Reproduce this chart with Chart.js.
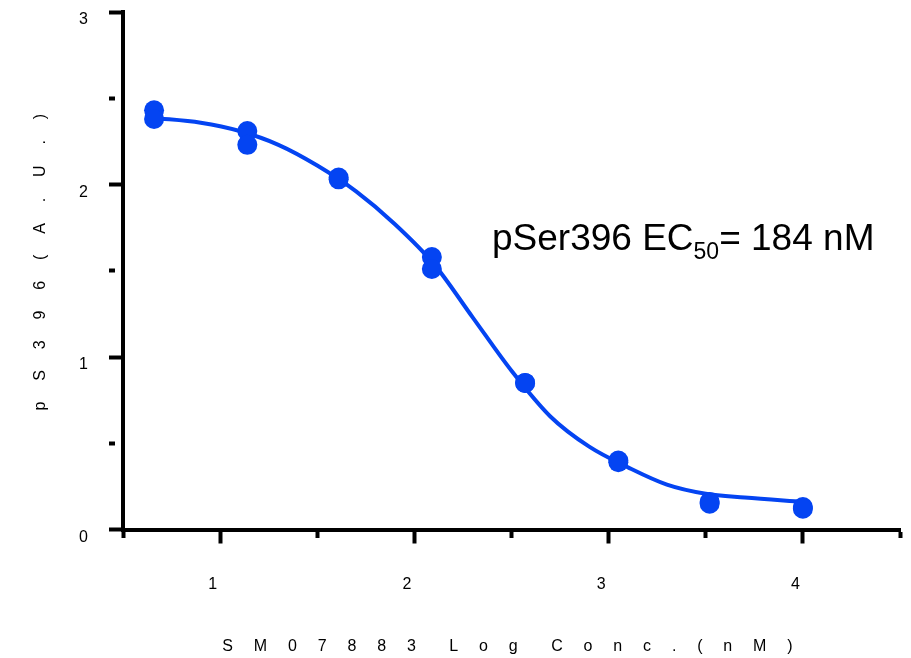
<!DOCTYPE html>
<html>
<head>
<meta charset="utf-8">
<script src="https://cdn.jsdelivr.net/npm/chart.js@4/dist/chart.umd.min.js"></script>
<style>
  html, body { margin: 0; padding: 0; background: #fff; }
  #wrap { width: 911px; height: 658px; }
</style>
</head>
<body>
<div id="wrap"><canvas id="doseChart" width="911" height="658"></canvas></div>
<script>
// log10 concentration (nM) of the dilution series
const logConc = [0.66, 1.14, 1.61, 2.09, 2.57, 3.05, 3.52, 4.0];
// pS396 signal, two replicates
const rep1 = [2.43, 2.31, 2.04, 1.58, 0.85, 0.40, 0.16, 0.13];
const rep2 = [2.38, 2.23, 2.03, 1.51, 0.85, 0.39, 0.15, 0.12];
// fitted curve
const fitX = [0.657, 0.9, 1.1, 1.3, 1.5, 1.7, 1.9, 2.1, 2.3, 2.5, 2.7, 2.9, 3.1, 3.3, 3.5, 3.7, 4.0];
const fitY = [2.386, 2.358, 2.31, 2.23, 2.11, 1.96, 1.77, 1.54, 1.23, 0.92, 0.655, 0.48, 0.36, 0.26, 0.207, 0.185, 0.16];
// axis ticks (whole numbers get a label, halves are minor)
const xTicks = [0.5, 1, 1.5, 2, 2.5, 3, 3.5, 4, 4.5];
const yTicks = [0, 0.5, 1, 1.5, 2, 2.5, 3];

const blue = '#0444f2';
const font = 'Liberation Sans, Arial, Helvetica, sans-serif';

const points = [];
logConc.forEach((x, i) => {
  points.push({ x: x, y: rep1[i] });
  points.push({ x: x, y: rep2[i] });
});
const curve = fitX.map((x, i) => ({ x: x, y: fitY[i] }));

const isMajor = v => Math.abs(v - Math.round(v)) < 1e-9;

// keep the plot box fixed, no extra room for edge labels
const noEdgePad = s => {
  s.paddingTop = 0; s.paddingBottom = 0;
  s.paddingLeft = 0; s.paddingRight = 0;
};

// titles are drawn with wide letter spacing
const spacedTitles = {
  id: 'spacedTitles',
  beforeDraw(chart) {
    ['x', 'y'].forEach(id => {
      const s = chart.scales[id];
      if (!s || s._spaced) return;
      const orig = s.drawTitle.bind(s);
      s.drawTitle = function () {
        const c = this.ctx;
        c.save();
        c.letterSpacing = '8.2px';
        orig();
        c.restore();
      };
      s._spaced = true;
    });
  }
};

const ecLabel = {
  id: 'ecLabel',
  afterDatasetsDraw(chart) {
    const c = chart.ctx;
    let x = 492, y = 250;
    c.save();
    c.fillStyle = '#000';
    c.textBaseline = 'alphabetic';
    c.textAlign = 'left';
    c.font = '37px ' + font;
    c.fillText('pSer396 EC', x, y);
    x += c.measureText('pSer396 EC').width;
    c.font = '23px ' + font;
    c.fillText('50', x, y + 9);
    x += c.measureText('50').width;
    c.font = '37px ' + font;
    c.fillText('= 184 nM', x, y);
    c.restore();
  }
};

const ctx = document.getElementById('doseChart').getContext('2d');
const doseChart = new Chart(ctx, {
  type: 'scatter',
  data: {
    datasets: [{
      label: 'pS396',
      data: points,
      order: 0,
      pointRadius: 10,
      pointBackgroundColor: blue,
      pointBorderWidth: 0,
      borderColor: blue,
      showLine: false
    }, {
      type: 'line',
      label: 'fit',
      data: curve,
      order: 1,
      borderColor: blue,
      borderWidth: 4,
      pointRadius: 0,
      cubicInterpolationMode: 'monotone',
      fill: false
    }]
  },
  options: {
    responsive: false,
    animation: false,
    layout: { padding: { left: 0, right: 11, top: 12, bottom: 0 } },
    plugins: {
      legend: { display: false },
      tooltip: { enabled: false }
    },
    scales: {
      x: {
        type: 'linear',
        min: 0.5,
        max: 4.5,
        afterBuildTicks: s => { s.ticks = xTicks.map(v => ({ value: v })); },
        afterFit: s => { s.height = 128.5; noEdgePad(s); },
        border: { display: true, color: '#000', width: 4 },
        grid: {
          drawOnChartArea: false,
          drawTicks: true,
          tickLength: 14,
          tickWidth: 4,
          tickColor: '#000',
          tickBorderDash: c => isMajor(c.tick.value) ? [] : [6, 100]
        },
        ticks: {
          color: '#000',
          font: { family: font, size: 16 },
          padding: 31,
          labelOffset: -7.5,
          maxRotation: 0,
          autoSkip: false,
          callback: v => isMajor(v) ? String(v) : ''
        },
        title: {
          display: true,
          text: 'S M 0 7 8 8 3  L o g  C o n c . ( n M )',
          color: '#000',
          font: { family: font, size: 16 },
          padding: { top: 0, bottom: 2 }
        }
      },
      y: {
        type: 'linear',
        min: 0,
        max: 3,
        afterBuildTicks: s => { s.ticks = yTicks.map(v => ({ value: v })); },
        afterFit: s => { s.width = 123; noEdgePad(s); },
        border: { display: true, color: '#000', width: 4 },
        grid: {
          drawOnChartArea: false,
          drawTicks: true,
          tickLength: 14,
          tickWidth: 4,
          tickColor: '#000',
          tickBorderDash: c => isMajor(c.tick.value) ? [] : [6, 100]
        },
        ticks: {
          color: '#000',
          font: { family: font, size: 16 },
          padding: 21,
          labelOffset: 8,
          autoSkip: false,
          callback: v => isMajor(v) ? String(v) : ''
        },
        title: {
          display: true,
          text: '  p S 3 9 6 ( A . U . )',
          color: '#000',
          font: { family: font, size: 16 },
          padding: { top: 31, bottom: 0 }
        }
      }
    }
  },
  plugins: [spacedTitles, ecLabel]
});
</script>
</body>
</html>
